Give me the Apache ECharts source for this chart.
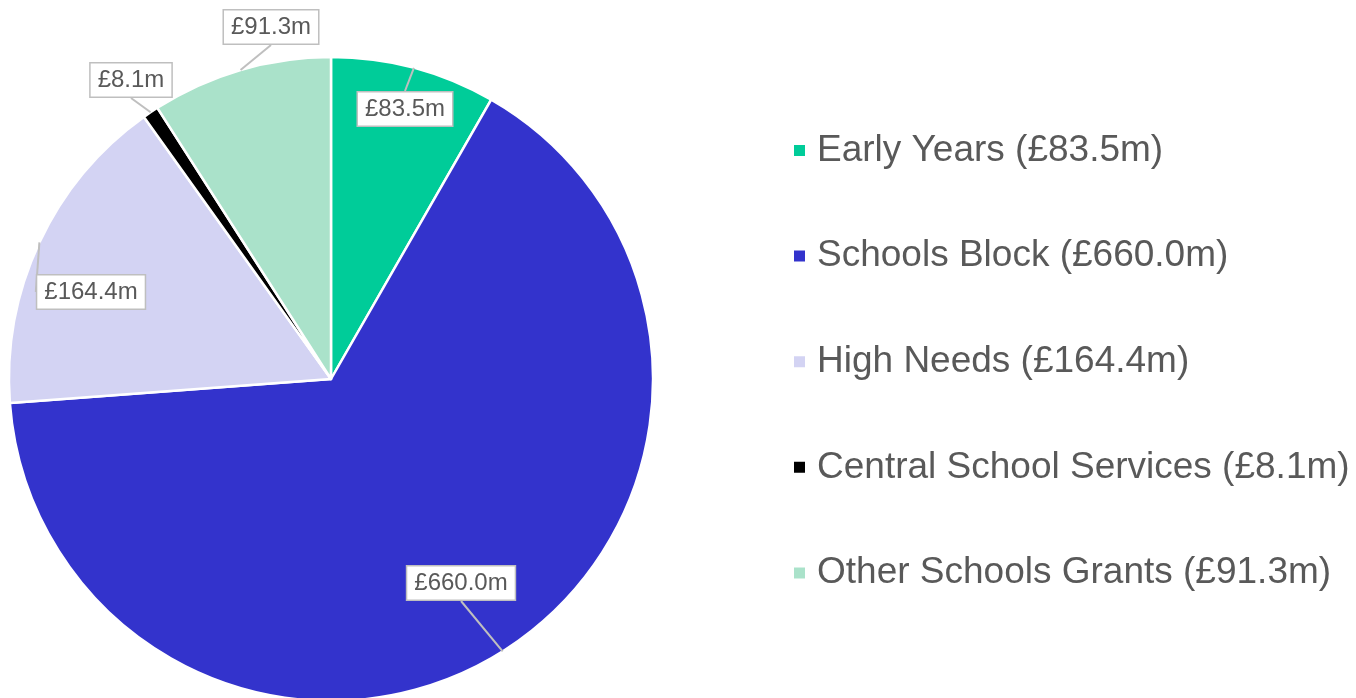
<!DOCTYPE html>
<html>
<head>
<meta charset="utf-8">
<script src="https://cdn.jsdelivr.net/npm/echarts@6/dist/echarts.min.js"></script>
<style>
  html, body { margin: 0; padding: 0; background: #fff; }
  #main { width: 1356px; height: 698px; }
</style>
</head>
<body>
<div id="main"></div>
<script>
var categories = ['Early Years', 'Schools Block', 'High Needs', 'Central School Services', 'Other Schools Grants'];
var values = [83.5, 660.0, 164.4, 8.1, 91.3];
var colors = ['#00cc99', '#3333cc', '#d3d3f3', '#000000', '#aae2ca'];

// where each callout box sits (centre, px)
var calloutPos = [[405, 109], [461, 583], [91, 292], [131, 80], [271, 27]];

var chart = echarts.init(document.getElementById('main'));

var slices = [];
var ghost = [];
for (var i = 0; i < categories.length; i++) {
  slices.push({ name: categories[i], value: values[i], itemStyle: { color: colors[i] } });
  ghost.push({ name: categories[i], value: values[i] });
}

var option = {
  animation: false,
  legend: {
    orient: 'vertical',
    left: 787,
    top: 127,
    icon: 'rect',
    itemWidth: 13,
    itemHeight: 13,
    itemGap: 68.6,
    textStyle: {
      fontFamily: 'Liberation Sans',
      fontSize: 37,
      lineHeight: 37,
      color: '#595959',
      padding: [0, 0, 0, 6]
    },
    formatter: function (name) {
      var idx = categories.indexOf(name);
      return name + ' (£' + values[idx].toFixed(1) + 'm)';
    },
    data: categories
  },
  series: [
    {
      type: 'pie',
      center: [331, 379],
      radius: 322,
      startAngle: 90,
      clockwise: true,
      label: { show: false },
      labelLine: { show: false },
      itemStyle: { borderColor: '#fff', borderWidth: 2.5 },
      emphasis: { disabled: true },
      data: slices
    },
    {
      // transparent copy on top, only to carry the callouts above the slices
      type: 'pie',
      z: 5,
      silent: true,
      center: [331, 379],
      radius: 322,
      startAngle: 90,
      clockwise: true,
      avoidLabelOverlap: false,
      itemStyle: { color: 'rgba(0,0,0,0)', borderWidth: 0 },
      label: {
        show: true,
        position: 'outside',
        formatter: function (p) { return '£' + p.value.toFixed(1) + 'm'; },
        fontFamily: 'Liberation Sans',
        fontSize: 24,
        color: '#595959',
        backgroundColor: '#fff',
        borderColor: '#bfbfbf',
        borderWidth: 1.5,
        padding: [5, 7, 4, 7]
      },
      labelLine: {
        show: true,
        length: 10,
        length2: 0,
        lineStyle: { color: '#bfbfbf', width: 2 }
      },
      labelLayout: function (p) {
        var pos = calloutPos[p.dataIndex];
        return { x: pos[0], y: pos[1], align: 'center', verticalAlign: 'middle' };
      },
      emphasis: { disabled: true },
      data: ghost
    }
  ]
};

chart.setOption(option);
</script>
</body>
</html>
